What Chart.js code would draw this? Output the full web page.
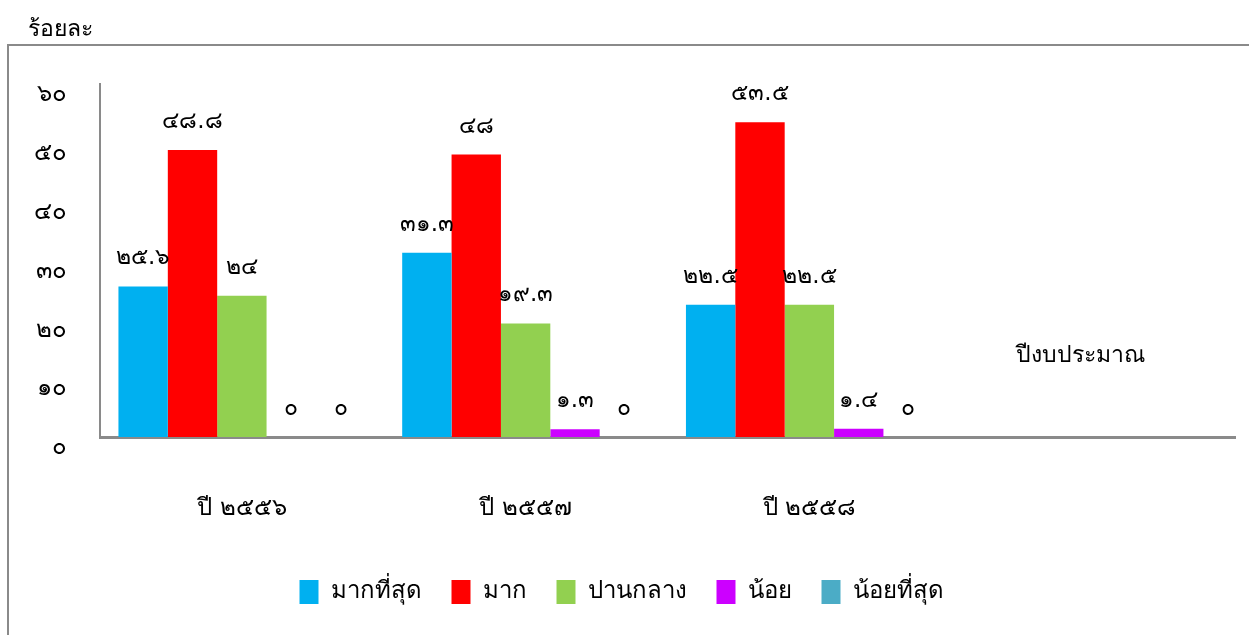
<!DOCTYPE html>
<html>
<head>
<meta charset="utf-8">
<script src="https://cdn.jsdelivr.net/npm/chart.js@4.4.0/dist/chart.umd.min.js"></script>
<style>
html,body{margin:0;padding:0;background:#fff;}
#wrap{position:relative;width:1249px;height:635px;}
</style>
</head>
<body>
<div id="wrap"><canvas id="c" width="1249" height="635"></canvas></div>
<script>
const categories = ["ปี ๒๕๕๖", "ปี ๒๕๕๗", "ปี ๒๕๕๘", ""];
const seriesNames = ["มากที่สุด", "มาก", "ปานกลาง", "น้อย", "น้อยที่สุด"];
const seriesColors = ["#00B0F0", "#FF0000", "#92D050", "#CC00FF", "#4BACC6"];
const valMost = [25.6, 31.3, 22.5, null];
const valMuch = [48.8, 48, 53.5, null];
const valMedium = [24, 19.3, 22.5, null];
const valLittle = [0, 1.3, 1.4, null];
const valLeast = [0, 0, 0, null];
const yTicks = [0, 10, 20, 30, 40, 50, 60];
const yTitle = "ร้อยละ";
const xTitle = "ปีงบประมาณ";

const FONT = 'Tahoma, "DejaVu Sans", sans-serif';
const thaiDigits = "๐๑๒๓๔๕๖๗๘๙";
function toThai(v){ return String(v).replace(/[0-9]/g, d => thaiDigits[+d]); }

const allVals = [valMost, valMuch, valMedium, valLittle, valLeast];

const framePlugin = {
  id: 'frame',
  afterDraw(chart){
    const ctx = chart.ctx;
    ctx.save();
    ctx.strokeStyle = '#8a8a8a';
    ctx.lineWidth = 2;
    ctx.beginPath();
    ctx.moveTo(8, 635);
    ctx.lineTo(8, 45);
    ctx.lineTo(1249, 45);
    ctx.stroke();
    ctx.fillStyle = '#000';
    ctx.font = '23px ' + FONT;
    ctx.textAlign = 'left';
    ctx.textBaseline = 'middle';
    ctx.fillText(yTitle, 28, 30);
    ctx.textAlign = 'center';
    ctx.fillText(xTitle, 1080, 356);
    ctx.font = '23px ' + FONT;
    chart.data.datasets.forEach((ds, di) => {
      const meta = chart.getDatasetMeta(di);
      meta.data.forEach((bar, i) => {
        const v = ds.data[i];
        if (v === null || v === undefined) return;
        ctx.fillText(toThai(v), bar.x, bar.y - 28);
      });
    });
    ctx.restore();
  }
};

new Chart(document.getElementById('c'), {
  type: 'bar',
  data: {
    labels: categories,
    datasets: seriesNames.map((n, i) => ({
      label: n,
      data: allVals[i],
      backgroundColor: seriesColors[i],
      borderWidth: 0,
      categoryPercentage: 0.87,
      barPercentage: 1.0
    }))
  },
  options: {
    responsive: false,
    animation: false,
    layout: { padding: { left: 8, right: 14, top: 84, bottom: 21 } },
    plugins: {
      legend: {
        position: 'bottom',
        labels: {
          boxWidth: 19, boxHeight: 24, padding: 30,
          color: '#000',
          font: { size: 24, family: FONT }
        }
      },
      tooltip: { enabled: false }
    },
    scales: {
      x: {
        afterFit(scale){ scale.height = 113; },
        grid: { display: false, drawTicks: false },
        border: { display: true, color: '#8a8a8a', width: 3 },
        ticks: { color: '#000', font: { size: 24, family: FONT }, padding: 57, maxRotation: 0 }
      },
      y: {
        min: 0, max: 60,
        afterBuildTicks(scale){ scale.ticks = yTicks.map(v => ({ value: v })); },
        afterFit(scale){ scale.width = 92; },
        grid: { display: false, drawTicks: false },
        border: { display: true, color: '#8a8a8a', width: 2 },
        ticks: { color: '#000', font: { size: 24, family: FONT }, padding: 33, labelOffset: 11,
          callback: v => toThai(v) }
      }
    }
  },
  plugins: [framePlugin]
});
</script>
</body>
</html>
